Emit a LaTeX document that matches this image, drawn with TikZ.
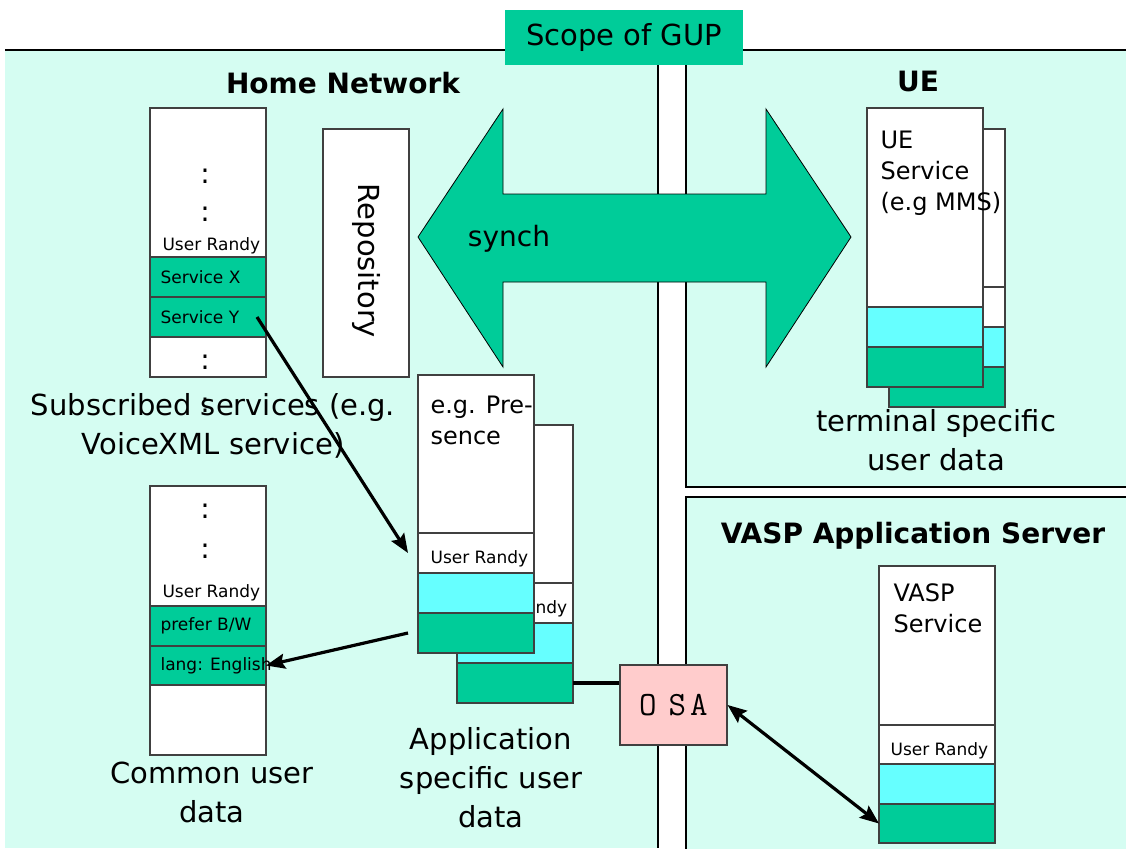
\documentclass[tikz,border=0pt]{standalone}
\usepackage{fontspec}
\setmainfont{DejaVu Sans}
\usetikzlibrary{arrows.meta}

\definecolor{netbg}{HTML}{D5FDF2}
\definecolor{gupgreen}{HTML}{00CC99}
\definecolor{cellcyan}{HTML}{66FFFF}
\definecolor{osapink}{HTML}{FFCCCC}
\definecolor{boxline}{HTML}{404040}

\begin{document}
\begin{tikzpicture}[x=1pt, y=-1pt, line width=1.1pt,
    >={Stealth[length=19pt,width=15pt,inset=3pt]},
    datacol/.style={draw=boxline, fill=white, minimum width=116pt, inner sep=0pt, outer sep=0pt, anchor=north west},
    band/.style={datacol, minimum height=40pt},
    lbl/.style={anchor=west, inner sep=0pt, font=\fontsize{17}{20}\selectfont},
    dotpair/.style={inner sep=0pt, font=\fontsize{28}{28}\selectfont},
    heading/.style={anchor=base, inner sep=0pt, font=\bfseries\fontsize{28}{34}\selectfont},
    capt/.style={align=center, inner sep=0pt, font=\fontsize{29}{39}\selectfont},
    svctxt/.style={anchor=north west, align=left, inner sep=0pt, font=\fontsize{24}{31}\selectfont},
    link/.style={line width=3.2pt, ->}]
    \fill[white] (0,0) rectangle (1126,848);
    \useasboundingbox (0,0) rectangle (1126,848);

    % the three domains and the strip between them
    \fill[netbg] (5,50) rectangle (658,848);
    \draw (5,50) -- (658,50) -- (658,848);
    \draw[fill=netbg] (686,50) rectangle (1140,487);
    \draw[fill=netbg] (686,497) rectangle (1140,860);
    \node[fill=gupgreen, minimum width=238pt, minimum height=55pt, inner sep=0pt, font=\fontsize{29}{35}\selectfont] (gup) at (624,37.5) {Scope of GUP};

    \node[heading] (home) at (343,94) {Home Network};
    \node[heading] (ue) at (918,92) {UE};
    \node[heading] (vasptitle) at (913,543) {VASP Application Server};

    % synch arrow
    \draw[fill=gupgreen, line width=0.8pt] (418,237) -- (503,109) -- (503,194) -- (766,194) -- (766,109) -- (851,237)
        -- (766,367) -- (766,282) -- (503,282) -- (503,367) -- cycle;
    \node[anchor=base, inner sep=0pt, font=\fontsize{28}{34}\selectfont] (synch) at (509,246) {synch};

    \node[draw=boxline, fill=white, minimum width=86pt, minimum height=248pt, inner sep=0pt] (repo) at (366,253) {};
    \node[rotate=-90, inner sep=0pt, font=\fontsize{29}{34}\selectfont] at (366,261) {Repository};

    % subscribed services
    \node[datacol, minimum height=269pt] (subs) at (150,108) {};
    \node[band, fill=gupgreen] (svcX) at (150,257) {};
    \node[band, fill=gupgreen] (svcY) at (150,297) {};
    \node[lbl] at (162,246) {User Randy};
    \node[lbl] at ([xshift=10pt]svcX.west) {Service X};
    \node[lbl] at ([xshift=10pt]svcY.west) {Service Y};
    \foreach \y in {176,214,362,405} \node[dotpair] at (205,\y) {:};
    \node[capt] (subscap) at (213,426) {Subscribed services (e.g.\\VoiceXML service)};

    % common user data
    \node[datacol, minimum height=269pt] (common) at (150,486) {};
    \node[band, fill=gupgreen] (prefer) at (150,606) {};
    \node[band, fill=gupgreen, minimum height=39pt] (lang) at (150,646) {};
    \node[lbl] at (162,593) {User Randy};
    \node[lbl] at ([xshift=10pt]prefer.west) {prefer B/W};
    \node[lbl] at ([xshift=10pt]lang.west) {lang: English};
    \foreach \y in {511,551} \node[dotpair] at (205,\y) {:};
    \node[capt] (commoncap) at (212,792) {Common user\\data};

    % application specific data, back copy first
    \foreach \dx/\dy/\n in {39/50/back, 0/0/front} {
        \node[datacol, minimum height=278pt] (app\n) at (418+\dx,375+\dy) {};
        \node[band] (appuser\n) at (418+\dx,533+\dy) {};
        \node[lbl] at ([xshift=12pt,yshift=-6pt]appuser\n.west) {User Randy};
        \node[band, fill=cellcyan] (appcell\n) at (418+\dx,573+\dy) {};
        \node[band, fill=gupgreen] (appdata\n) at (418+\dx,613+\dy) {};
    }
    \node[svctxt] at (430,395) {e.g. Pre-\\sence};
    \node[capt] (appcap) at (491,778) {Application\\specific user\\data};

    % terminal specific data
    \node[datacol, minimum height=278pt] (ueback) at (889,129) {};
    \node[band] (ueuserback) at (889,287) {};
    \node[band, fill=cellcyan] (uecellback) at (889,327) {};
    \node[band, fill=gupgreen] (uedataback) at (889,367) {};
    \node[datacol, minimum height=279pt] (uefront) at (867,108) {};
    \node[band, fill=cellcyan] (uecell) at (867,307) {};
    \node[band, fill=gupgreen] (uedata) at (867,347) {};
    \node[svctxt] at (880,130) {UE\\Service\\(e.g MMS)};
    \node[capt] (uecap) at (936,440) {terminal specific\\user data};

    % VASP service
    \node[datacol, minimum height=277pt] (vasp) at (879,566) {};
    \node[band, minimum height=39pt] (vaspuser) at (879,725) {};
    \node[lbl] at ([xshift=11pt,yshift=-6pt]vaspuser.west) {User Randy};
    \node[band, fill=cellcyan] (vaspcell) at (879,764) {};
    \node[band, fill=gupgreen, minimum height=39pt] (vaspdata) at (879,804) {};
    \node[svctxt] at (893,583) {VASP\\Service};

    \node[draw=boxline, fill=osapink, minimum width=107pt, minimum height=80pt, inner sep=0pt, font=\ttfamily\fontsize{34}{36}\selectfont] (osa) at (673.5,705) {O\hspace{12pt}S\hspace{4pt}A};

    % connectors
    \draw[link] ([xshift=-9pt]svcY.east) -- ([xshift=-10pt]appuserfront.west);
    \draw[link] ([xshift=-10pt]appdatafront.west) -- (lang.east);
    \draw[line width=3.2pt] (appdataback.east) -- (appdataback.east -| osa.west);
    \draw[link, <->] (osa.east) -- (vaspdata.west);
\end{tikzpicture}
\end{document}
